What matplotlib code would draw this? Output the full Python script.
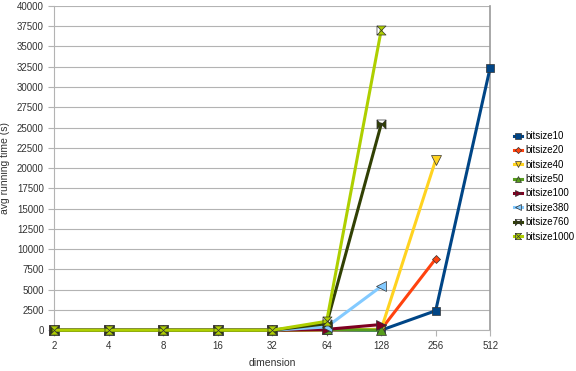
import matplotlib
matplotlib.use('Agg')
import matplotlib.pyplot as plt
import numpy as np

plt.rcParams['font.family'] = ['Liberation Sans', 'DejaVu Sans']

dims = ['2', '4', '8', '16', '32', '64', '128', '256', '512']

bitsize10 = [0, 0, 0, 0, 0, 0, 0, 2400, 32400]
bitsize20 = [0, 0, 0, 0, 0, 50, 100, 8800]
bitsize40 = [0, 0, 0, 0, 0, 50, 100, 21000]
bitsize50 = [0, 0, 0, 0, 0, 100, 0]
bitsize100 = [0, 0, 0, 0, 0, 100, 700]
bitsize380 = [0, 0, 0, 0, 0, 400, 5400]
bitsize760 = [0, 0, 0, 0, 0, 800, 25400]
bitsize1000 = [0, 0, 0, 0, 0, 1100, 37000]

bowtie_h = [(-1, 1), (0, 0), (-1, -1), (-1, 1), (1, 1), (0, 0), (1, -1), (1, 1)]
bowtie_v = [(-1, 1), (1, 1), (0, 0), (-1, 1), (-1, -1), (1, -1), (0, 0), (-1, -1)]

series = [
    ('bitsize10', bitsize10, '#004586', 's', 6),
    ('bitsize20', bitsize20, '#ff420e', 'D', 4.5),
    ('bitsize40', bitsize40, '#ffd320', 'v', 6.5),
    ('bitsize50', bitsize50, '#579d1c', '^', 6.5),
    ('bitsize100', bitsize100, '#7e0021', '>', 6.5),
    ('bitsize380', bitsize380, '#83caff', '<', 6.5),
    ('bitsize760', bitsize760, '#314004', bowtie_h, 6.5),
    ('bitsize1000', bitsize1000, '#aecf00', bowtie_v, 6.5),
]

fig = plt.figure(figsize=(5.76, 3.71), dpi=100)
ax = fig.add_axes([0.094, 0.11, 0.757, 0.874])

for name, vals, color, mk, ms in series:
    x = np.arange(len(vals))
    ax.plot(x, vals, color=color, lw=2.2, marker=mk, markersize=ms,
            markeredgecolor='#333333', markeredgewidth=0.5, label=name,
            clip_on=False, zorder=3)

ax.set_xlim(0, len(dims) - 1)
ax.set_xticks(np.arange(len(dims)))
ax.set_xticklabels(dims)
ax.set_ylim(0, 40000)
ax.set_yticks(np.arange(0, 40001, 2500))
ax.yaxis.grid(True, color='#b3b3b3', lw=0.8)
ax.set_axisbelow(True)
ax.spines['top'].set_visible(False)
ax.spines['right'].set_color('#999999')
ax.spines['right'].set_linewidth(1.2)
for s in ['left', 'bottom']:
    ax.spines[s].set_color('#b3b3b3')
ax.tick_params(axis='both', colors='#b3b3b3', labelcolor='#333333',
               labelsize=7, length=4, direction='out')
ax.set_xlabel('dimension', fontsize=7.5, color='#333333', labelpad=5)
ax.set_ylabel('avg running time (s)', fontsize=7.5, color='#333333', labelpad=5)

ax.legend(loc='center left', bbox_to_anchor=(1.045, 0.444), frameon=False,
          fontsize=7, handlelength=0.9, handletextpad=0.3, labelspacing=0.45,
          markerscale=0.7, borderaxespad=0)

fig.savefig('out.png', dpi=100)
